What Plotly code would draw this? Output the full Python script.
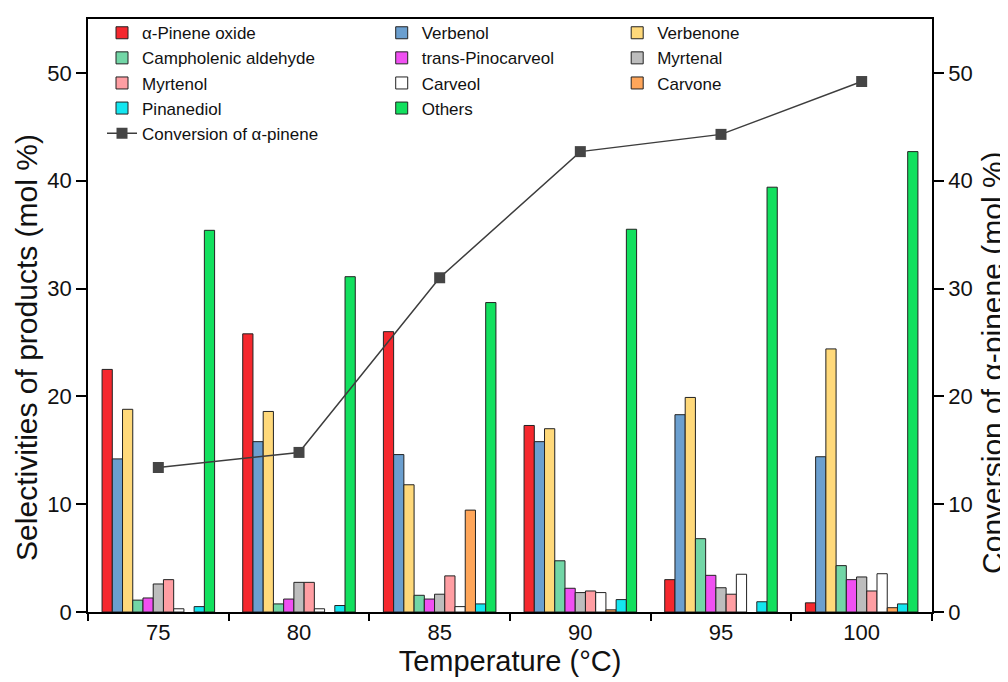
import plotly.graph_objects as go

temperatures = ["75", "80", "85", "90", "95", "100"]

pinene_oxide = [22.5, 25.8, 26.0, 17.3, 3.0, 0.85]
verbenol = [14.2, 15.8, 14.6, 15.8, 18.3, 14.4]
verbenone = [18.8, 18.6, 11.8, 17.0, 19.9, 24.4]
campholenic_aldehyde = [1.1, 0.75, 1.55, 4.75, 6.8, 4.3]
trans_pinocarveol = [1.3, 1.2, 1.2, 2.2, 3.4, 3.0]
myrtenal = [2.6, 2.75, 1.65, 1.8, 2.25, 3.25]
myrtenol = [3.0, 2.75, 3.35, 1.95, 1.65, 1.95]
carveol = [0.3, 0.3, 0.5, 1.8, 3.5, 3.55]
carvone = [None, None, 9.45, 0.2, None, 0.4]
pinanediol = [0.5, 0.6, 0.75, 1.15, 0.95, 0.75]
others = [35.4, 31.1, 28.7, 35.5, 39.4, 42.7]
conversion = [13.4, 14.8, 31.0, 42.7, 44.3, 49.2]

series = [
    ("α-Pinene oxide", pinene_oxide, "#f5282e", "legend"),
    ("Verbenol", verbenol, "#6b9fcf", "legend2"),
    ("Verbenone", verbenone, "#ffd97a", "legend3"),
    ("Campholenic aldehyde", campholenic_aldehyde, "#72d6a6", "legend"),
    ("trans-Pinocarveol", trans_pinocarveol, "#f050f2", "legend2"),
    ("Myrtenal", myrtenal, "#bdbdbd", "legend3"),
    ("Myrtenol", myrtenol, "#ff9ea3", "legend"),
    ("Carveol", carveol, "#ffffff", "legend2"),
    ("Carvone", carvone, "#ffa65a", "legend3"),
    ("Pinanediol", pinanediol, "#14e6f0", "legend"),
    ("Others", others, "#12e05e", "legend2"),
]

FONT = "Liberation Sans, Arial, sans-serif"

fig = go.Figure()
for name, vals, color, leg in series:
    fig.add_trace(go.Bar(
        x=temperatures, y=vals, name=name, legend=leg,
        marker=dict(color=color, line=dict(color="#222222", width=1)),
    ))

fig.add_trace(go.Scatter(
    x=temperatures, y=conversion, name="Conversion of α-pinene", legend="legend",
    yaxis="y2", mode="lines+markers",
    line=dict(color="#3d3d3d", width=1.5),
    marker=dict(symbol="square", size=11, color="#454545"),
))

legend_common = dict(
    bgcolor="rgba(0,0,0,0)", borderwidth=0,
    font=dict(family=FONT, size=17, color="#111111"),
    orientation="v", yanchor="top", xanchor="left", y=1.0064,
    tracegroupgap=0,
)

fig.update_layout(
    width=1000, height=674,
    margin=dict(l=80, r=76, t=7, b=70),
    paper_bgcolor="white", plot_bgcolor="white",
    barmode="group", bargap=0.2, bargroupgap=0,
    font=dict(family=FONT, color="#111111"),
    legend=dict(x=0.0166, **legend_common),
    legend2=dict(x=0.348, **legend_common),
    legend3=dict(x=0.627, **legend_common),
    xaxis=dict(
        type="category", showline=True, linecolor="black", linewidth=1.5,
        mirror=True, ticks="outside", ticklen=7, tickwidth=1.5, tickcolor="black",
        tickson="boundaries", showgrid=False, automargin=False,
        tickfont=dict(size=22, family=FONT),
        title=dict(text="Temperature (°C)", font=dict(size=29, family=FONT), standoff=6),
    ),
    yaxis=dict(
        range=[0, 55], dtick=10, showline=True, linecolor="black", linewidth=1.5,
        ticks="outside", ticklen=10, tickwidth=1.5, tickcolor="black",
        showgrid=False, zeroline=False, automargin=False,
        tickfont=dict(size=22, family=FONT),
    ),
    yaxis2=dict(
        range=[0, 55], dtick=10, overlaying="y", side="right",
        showline=True, linecolor="black", linewidth=1.5,
        ticks="outside", ticklen=10, tickwidth=1.5, tickcolor="black",
        showgrid=False, zeroline=False, automargin=False,
        tickfont=dict(size=22, family=FONT),
    ),
    annotations=[
        dict(text="Selectivities of products (mol %)", textangle=-90,
             xref="paper", yref="paper", x=-0.0723, y=0.447,
             xanchor="center", yanchor="middle", showarrow=False,
             font=dict(size=30, family=FONT, color="#111111")),
        dict(text="Conversion of α-pinene (mol %)", textangle=-90,
             xref="paper", yref="paper", x=1.0723, y=0.420,
             xanchor="center", yanchor="middle", showarrow=False,
             font=dict(size=30, family=FONT, color="#111111")),
    ],
)

fig.write_html("out.html")
